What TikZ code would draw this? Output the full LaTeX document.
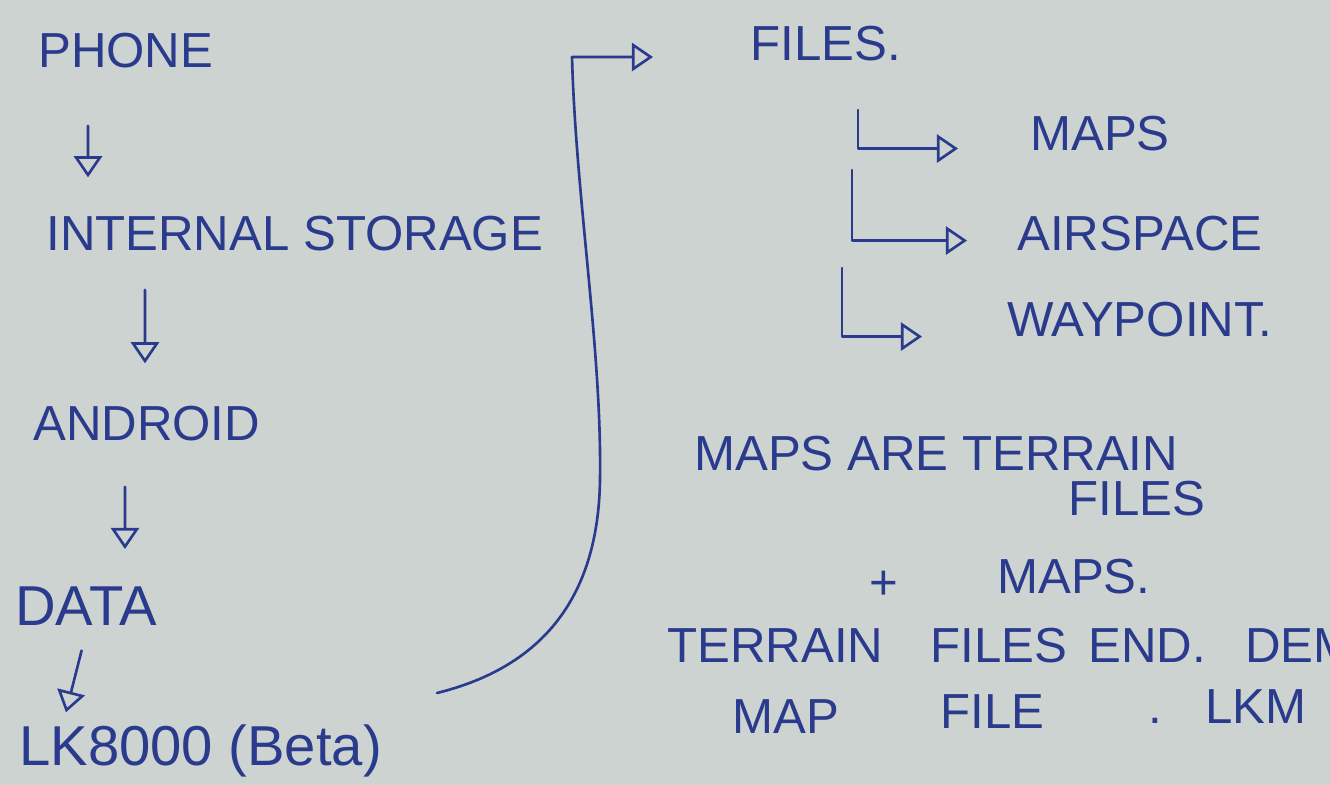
\documentclass[tikz,border=0pt]{standalone}
\usepackage{fontspec}
\setmainfont{Liberation Sans}
\usetikzlibrary{arrows.meta}
\definecolor{paper}{RGB}{204,211,209}
\definecolor{ink}{RGB}{42,58,140}

\begin{document}
\begin{tikzpicture}[x=0.02cm,y=-0.02cm,
		word/.style={text=ink,font=\fontsize{28}{34}\selectfont,inner sep=0pt,anchor=base west},
		big/.style={word,font=\fontsize{32}{38}\selectfont},
		pen/.style={draw=ink,line width=1.5pt,line cap=round,line join=round},
		tip/.style={pen,-{Triangle[open,length=12pt,width=16pt]}}]
	\useasboundingbox (0,0) rectangle (1330,785);
	\clip (0,0) rectangle (1330,785);
	\fill[paper] (0,0) rectangle (1330,785);

	% left column
	\node[word] (phone) at (38,67) {PHONE};
	\node[word] (storage) at (46,250) {INTERNAL STORAGE};
	\node[word] (android) at (33,440) {ANDROID};
	\node[big] (data) at (15,625) {DATA};
	\node[big] (lk) at (19,765) {LK8000 (Beta)};

	\draw[tip,shorten <=1.16cm,shorten >=0.76cm] ([xshift=1cm]phone.south west) -- ([xshift=0.84cm]storage.north west);
	\draw[tip,shorten <=0.78cm,shorten >=0.84cm] ([xshift=1.98cm]storage.south west) -- ([xshift=2.24cm]android.north west);
	\draw[tip,shorten <=0.92cm,shorten >=0.74cm] ([xshift=1.84cm]android.south west) -- ([xshift=2.2cm]data.north west);
	\draw[tip,shorten <=0.52cm,shorten >=0.24cm] ([xshift=1.46cm]data.south west) -- ([xshift=0.88cm]lk.north west);

	% right side
	\node[word] (files) at (750,60) {FILES.};
	\node[word] (maps) at (1030,150) {MAPS};
	\node[word] (airspace) at (1017,250) {AIRSPACE};
	\node[word] (waypoint) at (1007,336) {WAYPOINT.};

	\coordinate (bottom) at (437,693);
	\coordinate (top) at (572,57);
	\draw[tip,shorten >=1.94cm] (bottom) .. controls (530,670) and (598,610) .. (600,480)
		.. controls (602,350) and (576,200) .. (top) -- (top -| files.west);

	\coordinate (m1) at (858,110);
	\coordinate (m2) at (852,170);
	\coordinate (m3) at (842,268);
	\draw[tip,shorten >=1.44cm] (m1) |- ([yshift=-0.31cm]maps.west);
	\draw[tip,shorten >=1cm] (m2) |- ([yshift=-0.15cm]airspace.west);
	\draw[tip,shorten >=1.7cm] (m3) |- ([yshift=-0.35cm]waypoint.west);

	\node[word] (mapsare) at (694,470) {MAPS ARE TERRAIN};
	\node[word] (tfiles) at (1068,515) {FILES};
	\node[word,anchor=center] (plus) at (884,585) {+};
	\node[word] (maps2) at (997,593) {MAPS.};
	\node[word] (terrain) at (667,662) {TERRAIN};
	\node[word] (files2) at (930,662) {FILES};
	\node[word] (fend) at (1088,662) {END.};
	\node[word] (dem) at (1245,662) {DEM};
	\node[word] (mapw) at (732,733) {MAP};
	\node[word] (filew) at (940,728) {FILE};
	\node[word] (dot) at (1148,723) {.};
	\node[word] (lkm) at (1205,723) {LKM};
\end{tikzpicture}
\end{document}
